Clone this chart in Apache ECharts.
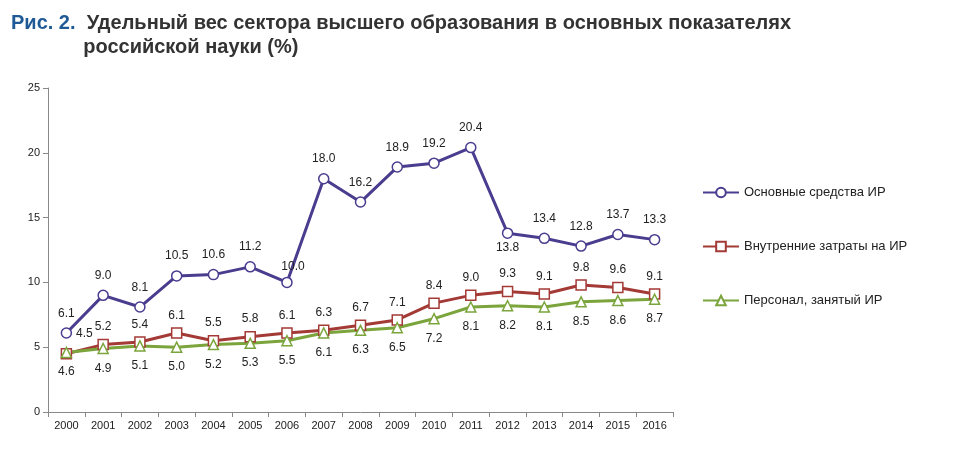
<!DOCTYPE html>
<html><head><meta charset="utf-8">
<script src="https://cdn.jsdelivr.net/npm/echarts@6/dist/echarts.min.js"></script>
<style>body{margin:0;background:#fff}#c{width:960px;height:449px}</style>
</head><body><div id="c"></div>
<script>
const years=['2000','2001','2002','2003','2004','2005','2006','2007','2008','2009','2010','2011','2012','2013','2014','2015','2016'];
const fixedAssets=[6.1,9.0,8.1,10.5,10.6,11.2,10.0,18.0,16.2,18.9,19.2,20.4,13.8,13.4,12.8,13.7,13.3];
const internalCosts=[4.5,5.2,5.4,6.1,5.5,5.8,6.1,6.3,6.7,7.1,8.4,9.0,9.3,9.1,9.8,9.6,9.1];
const personnel=[4.6,4.9,5.1,5.0,5.2,5.3,5.5,6.1,6.3,6.5,7.2,8.1,8.2,8.1,8.5,8.6,8.7];
const names=['Основные средства ИР','Внутренние затраты на ИР','Персонал, занятый ИР'];
const ch=echarts.init(document.getElementById('c'));
const lbl=(pos)=>({show:true,position:pos,fontSize:12,color:'#222',fontFamily:'Liberation Sans',formatter:p=>p.value.toFixed(1)});
ch.setOption({
 animation:false,
 title:{text:'{a|Рис. 2.}  Удельный вес сектора высшего образования в основных показателях\n             российской науки (%)',left:6,top:6,
  textStyle:{fontSize:20,fontWeight:'bold',color:'#333',fontFamily:'Liberation Sans',lineHeight:24,rich:{a:{fontSize:20,fontWeight:'bold',color:'#1f5a96',fontFamily:'Liberation Sans'}}}},
 grid:{left:48,right:287,top:88,bottom:37},
 legend:{orient:'vertical',left:697,top:181,itemGap:41,itemWidth:36,itemHeight:12,
  textStyle:{fontSize:13,color:'#222',fontFamily:'Liberation Sans'}},
 xAxis:{type:'category',data:years,axisTick:{show:true,lineStyle:{color:'#888'}},
  axisLine:{lineStyle:{color:'#888'}},axisLabel:{fontSize:11,color:'#222',interval:0,fontFamily:'Liberation Sans'}},
 yAxis:{type:'value',min:0,max:25,interval:5,splitLine:{show:false},axisLine:{show:true,lineStyle:{color:'#888'}},
  axisTick:{show:true,lineStyle:{color:'#888'}},axisLabel:{fontSize:11,color:'#222',fontFamily:'Liberation Sans'}},
 series:[
  {name:names[0],type:'line',data:fixedAssets,symbol:'circle',symbolSize:10,lineStyle:{color:'#4a3c8e',width:3},
   itemStyle:{color:'#fff',borderColor:'#4a3c8e',borderWidth:1.5},
   label:Object.assign(lbl('top'),{distance:8}),
   labelLayout:p=>p.dataIndex===12?{dy:34}:(p.dataIndex===6?{dx:6,dy:4}:{})},
  {name:names[1],type:'line',data:internalCosts,symbol:'rect',symbolSize:10,lineStyle:{color:'#a33a36',width:3},
   itemStyle:{color:'#fff',borderColor:'#a33a36',borderWidth:1.5},label:Object.assign(lbl('top'),{distance:6}),
   labelLayout:p=>p.dataIndex===0?{dx:18,dy:-2}:{}},
  {name:names[2],type:'line',data:personnel,symbol:'triangle',symbolSize:10,lineStyle:{color:'#7ba53c',width:3},
   itemStyle:{color:'#fff',borderColor:'#7ba53c',borderWidth:1.5},label:Object.assign(lbl('bottom'),{distance:8})}
 ]
});
</script></body></html>
